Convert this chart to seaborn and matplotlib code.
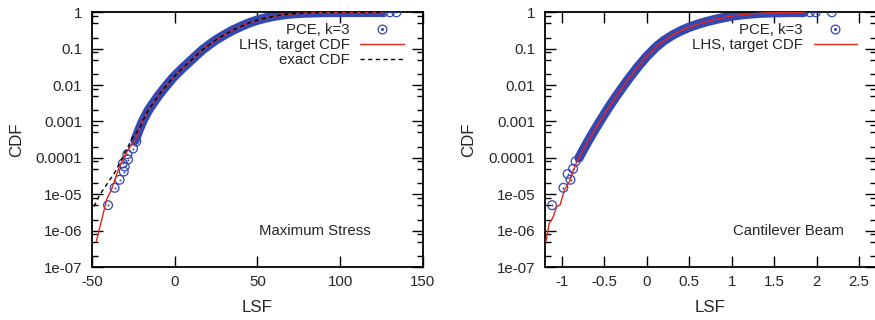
import numpy as np
import pandas as pd
import matplotlib
matplotlib.use('Agg')
import matplotlib.pyplot as plt
import matplotlib.ticker as mticker
from matplotlib.lines import Line2D
import seaborn as sns

# ---- Maximum Stress (left panel) ----
ms_upper_x = [-24, -21.5, -19, -16, -13, -10, -7, -4, -1, 2, 5, 9, 13, 17, 21, 25, 30, 35, 40, 45,
              50, 55, 60, 65, 70, 75, 80, 90, 100, 125]
ms_upper_cdf = [3e-4, 6e-4, 1.1e-3, 2e-3, 3.2e-3, 5e-3, 7.5e-3, 0.011, 0.016, 0.022, 0.03, 0.044,
                0.065, 0.095, 0.13, 0.175, 0.24, 0.32, 0.41, 0.51, 0.61, 0.70, 0.78, 0.85, 0.90,
                0.935, 0.96, 0.985, 0.995, 1.0]
ms_pce_tail_x = [-40.3, -36.3, -33.3, -31.3, -30.8, -30.2, -28.6, -28.2, -25.2, -23.2, 126, 130, 134]
ms_pce_tail_cdf = [5e-6, 1.5e-5, 2.5e-5, 7e-5, 4.2e-5, 5.8e-5, 1.26e-4, 9e-5, 1.8e-4, 2.8e-4, 1.0, 1.0, 1.0]
ms_lhs_x = [-47.4, -41, -38.3, -33.3, -28.5]
ms_lhs_cdf = [5e-7, 7.4e-6, 1.3e-5, 6e-5, 1.6e-4]
ms_exact_x = [-48.8, -45.4, -36.3, -30.2, -25.4, -21.5]
ms_exact_cdf = [4.6e-6, 9.5e-6, 3.9e-5, 1.35e-4, 3.6e-4, 6e-4]

# ---- Cantilever Beam (right panel) ----
cb_upper_x = [-0.80, -0.74, -0.68, -0.62, -0.56, -0.49, -0.42, -0.35, -0.29, -0.2, -0.1, 0.0, 0.11,
              0.2, 0.3, 0.4, 0.5, 0.6, 0.7, 0.8, 0.9, 1.0, 1.1, 1.2, 1.35, 1.5, 1.7, 1.85]
cb_upper_cdf = [1e-4, 1.82e-4, 3.24e-4, 5.6e-4, 9.5e-4, 1.74e-3, 3.1e-3, 5.4e-3, 8.5e-3, 0.0166,
                0.033, 0.062, 0.112, 0.166, 0.234, 0.31, 0.39, 0.47, 0.55, 0.63, 0.71, 0.785,
                0.847, 0.897, 0.95, 0.975, 0.993, 1.0]
cb_pce_tail_x = [-1.117, -0.984, -0.933, -0.90, -0.87, -0.84, 1.83, 1.92, 1.99, 2.18]
cb_pce_tail_cdf = [5e-6, 1.5e-5, 3.6e-5, 2.5e-5, 5e-5, 8e-5, 1.0, 1.0, 1.0, 1.0]
cb_lhs_x = [-1.19, -1.15, -1.11, -1.063, -1.022, -0.972, -0.913, -0.834]
cb_lhs_cdf = [5e-7, 1.6e-6, 2.2e-6, 4.6e-6, 5.1e-6, 1.3e-5, 2.2e-5, 7e-5]

ytick_vals = [1e-7, 1e-6, 1e-5, 1e-4, 1e-3, 1e-2, 1e-1, 1]
ytick_labels = ['1e-07', '1e-06', '1e-05', '0.0001', '0.001', '0.01', '0.1', '1']
ms_xticks = [-50, 0, 50, 100, 150]
cb_xticks = [-1, -0.5, 0, 0.5, 1, 1.5, 2, 2.5]
cb_xtick_labels = ['-1', '-0.5', '0', '0.5', '1', '1.5', '2', '2.5']

blue = '#3448b0'
red = '#e8241c'

sns.set_style('ticks')
plt.rcParams['font.family'] = ['Liberation Sans', 'DejaVu Sans']
plt.rcParams['font.size'] = 10.8

fig = plt.figure(figsize=(8.75, 3.2), dpi=100)
ax1 = fig.add_axes([0.1051, 0.1656, 0.3783, 0.796])
ax2 = fig.add_axes([0.6229, 0.1656, 0.3783, 0.796])


def draw_panel(ax, upper_x, upper_cdf, tail_x, tail_cdf, lhs_x, lhs_cdf, exact_x=None, exact_cdf=None):
    # dense PCE sample cloud -> thick band
    sns.lineplot(x=upper_x, y=upper_cdf, ax=ax, color=blue, lw=6.8, sort=False,
                 estimator=None, solid_capstyle='round', solid_joinstyle='round')
    sns.scatterplot(x=tail_x, y=tail_cdf, ax=ax, marker='o', s=40, facecolor='none',
                    edgecolor=blue, linewidth=0.9, zorder=3)
    sns.scatterplot(x=tail_x, y=tail_cdf, ax=ax, marker='o', s=2, color=blue,
                    linewidth=0, zorder=3)
    sns.lineplot(x=lhs_x + upper_x, y=lhs_cdf + upper_cdf, ax=ax, color=red, lw=1.0,
                 sort=False, estimator=None, zorder=4)
    if exact_x is not None:
        sns.lineplot(x=exact_x + upper_x[2:], y=exact_cdf + upper_cdf[2:], ax=ax, color='black',
                     lw=1.0, ls=(0, (3, 2.5)), sort=False, estimator=None, zorder=5)
    ax.set_yscale('log')
    ax.set_ylim(1e-7, 1)
    ax.yaxis.set_major_locator(mticker.FixedLocator(ytick_vals))
    ax.yaxis.set_major_formatter(mticker.FixedFormatter(ytick_labels))
    ax.yaxis.set_minor_locator(mticker.LogLocator(base=10, subs=[2, 5, 8], numticks=20))
    ax.yaxis.set_minor_formatter(mticker.NullFormatter())
    ax.tick_params(which='both', direction='in', top=True, right=True, width=1, color='black')
    ax.tick_params(which='major', length=8, pad=7)
    ax.tick_params(which='minor', length=4)
    ax.tick_params(axis='x', pad=6)
    for s in ax.spines.values():
        s.set_linewidth(1.3)
        s.set_color('black')
    ax.set_xlabel('LSF', fontsize=12.2)
    ax.set_ylabel('CDF', fontsize=12.2)


draw_panel(ax1, ms_upper_x, ms_upper_cdf, ms_pce_tail_x, ms_pce_tail_cdf,
           ms_lhs_x, ms_lhs_cdf, ms_exact_x, ms_exact_cdf)
draw_panel(ax2, cb_upper_x, cb_upper_cdf, cb_pce_tail_x, cb_pce_tail_cdf,
           cb_lhs_x, cb_lhs_cdf)

ax1.set_xlim(-50, 150)
ax1.set_xticks(ms_xticks)
ax1.set_xticklabels([str(t) for t in ms_xticks])
ax2.set_xlim(-1.2, 2.7)
ax2.set_xticks(cb_xticks)
ax2.set_xticklabels(cb_xtick_labels)

ax1.yaxis.set_label_coords(-0.205, 0.5)
ax2.yaxis.set_label_coords(-0.208, 0.5)
ax1.xaxis.set_label_coords(0.5, -0.13)
ax2.xaxis.set_label_coords(0.5, -0.13)

ax1.text(0.843, 0.141, 'Maximum Stress', transform=ax1.transAxes, ha='right', va='center')
ax2.text(0.903, 0.141, 'Cantilever Beam', transform=ax2.transAxes, ha='right', va='center')

pce_handle = (Line2D([], [], ls='none', marker='o', mfc='none', mec=blue, ms=6.3, mew=0.9),
              Line2D([], [], ls='none', marker='o', ms=1.2, color=blue))
lhs_handle = Line2D([], [], color=red, lw=1.0)
exact_handle = Line2D([], [], color='black', lw=1.0, ls=(0, (3, 2.5)))


def add_legend(ax, handles, labels):
    leg = ax.legend(handles, labels, loc='upper right', bbox_to_anchor=(0.9426, 0.958),
                    frameon=False, markerfirst=False, handlelength=2.9, handletextpad=0.73,
                    labelspacing=0.08, borderpad=0, borderaxespad=0, fontsize=10.8)
    for col in leg._legend_handle_box.get_children():
        col.align = 'right'
    return leg


add_legend(ax1, [pce_handle, lhs_handle, exact_handle], ['PCE, k=3', 'LHS, target CDF', 'exact CDF'])
add_legend(ax2, [pce_handle, lhs_handle], ['PCE, k=3', 'LHS, target CDF'])

fig.savefig('out.png', dpi=100)
